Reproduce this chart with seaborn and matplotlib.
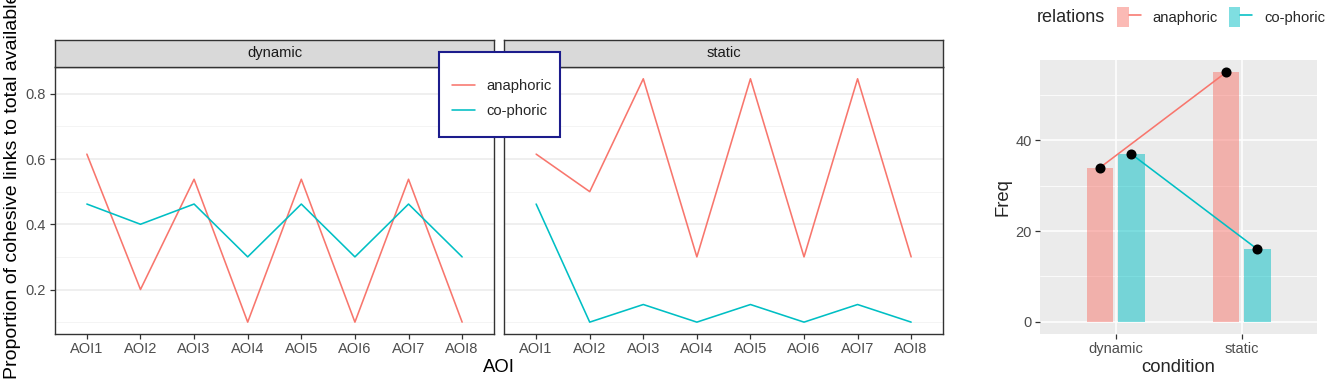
import numpy as np
import pandas as pd
import matplotlib
matplotlib.use("Agg")
import matplotlib.pyplot as plt
import seaborn as sns
from matplotlib.lines import Line2D
from matplotlib.patches import Patch, Rectangle
from matplotlib.legend_handler import HandlerTuple
from matplotlib.ticker import FixedLocator

# ---------------- data ----------------
aois = ["AOI1", "AOI2", "AOI3", "AOI4", "AOI5", "AOI6", "AOI7", "AOI8"]
conditions = ["dynamic", "static"]
relations = ["anaphoric", "co-phoric"]

dyn_anaphoric = [0.615, 0.2, 0.538, 0.1, 0.538, 0.1, 0.538, 0.1]
dyn_cophoric = [0.462, 0.4, 0.462, 0.3, 0.462, 0.3, 0.462, 0.3]
sta_anaphoric = [0.615, 0.5, 0.846, 0.3, 0.846, 0.3, 0.846, 0.3]
sta_cophoric = [0.462, 0.1, 0.154, 0.1, 0.154, 0.1, 0.154, 0.1]

freq_anaphoric = [34, 55]
freq_cophoric = [37, 16]

y_major = [0.2, 0.4, 0.6, 0.8]
y_minor = [0.1, 0.3, 0.5, 0.7]
freq_major = [0, 20, 40]
freq_minor = [10, 30, 50]

RED = "#F8766D"
CYAN = "#00BFC4"
palette = {"anaphoric": RED, "co-phoric": CYAN}

# ---------------- frames ----------------
rows = []
for cond, an, co in [("dynamic", dyn_anaphoric, dyn_cophoric),
                     ("static", sta_anaphoric, sta_cophoric)]:
    for a, v in zip(aois, an):
        rows.append((cond, a, "anaphoric", v))
    for a, v in zip(aois, co):
        rows.append((cond, a, "co-phoric", v))
prop_df = pd.DataFrame(rows, columns=["condition", "AOI", "relation", "prop"])

freq_df = pd.DataFrame({
    "condition": conditions * 2,
    "relations": ["anaphoric"] * 2 + ["co-phoric"] * 2,
    "Freq": freq_anaphoric + freq_cophoric,
})

# ---------------- figure ----------------
sns.set_style("white")
plt.rcParams["font.family"] = ["Liberation Sans", "DejaVu Sans"]

W, H = 1325, 383
fig = plt.figure(figsize=(W / 100, H / 100), dpi=100)


def fx(px):
    return px / W


def fy(py):
    return 1 - py / H


TICKC = "#4D4D4D"
BORDER = "#333333"
TICK_FS = 10.5
TITLE_FS = 13.3
LEG_FS = 10.6

panel_top, panel_bot = 66.7, 334.3
strip_top = 40.0
panels = [("dynamic", 54.7, 494.3), ("static", 504.0, 943.3)]

for i, (cond, x0, x1) in enumerate(panels):
    ax = fig.add_axes([fx(x0), fy(panel_bot), fx(x1) - fx(x0), fy(panel_top) - fy(panel_bot)])
    sub = prop_df[prop_df["condition"] == cond]
    sns.lineplot(data=sub, x="AOI", y="prop", hue="relation", palette=palette,
                 ax=ax, legend=False, linewidth=1.15, errorbar=None)
    ax.set_facecolor("white")
    ax.set_xlim(-0.6, 7.6)
    ax.set_ylim(0.0627, 0.883)
    ax.yaxis.set_major_locator(FixedLocator(y_major))
    ax.yaxis.set_minor_locator(FixedLocator(y_minor))
    ax.grid(False)
    ax.grid(axis="y", which="major", color="#EBEBEB", linewidth=1.1)
    ax.grid(axis="y", which="minor", color="#F2F2F2", linewidth=0.6)
    ax.set_axisbelow(True)
    for s in ax.spines.values():
        s.set_color(BORDER)
        s.set_linewidth(1.0)
        s.set_visible(True)
    ax.set_xlabel("")
    ax.set_ylabel("")
    ax.tick_params(axis="x", which="major", length=3.6, width=0.9, color=BORDER,
                   labelsize=TICK_FS, labelcolor=TICKC, pad=2.3, bottom=True)
    ax.tick_params(axis="y", which="minor", length=0, left=False)
    if i == 0:
        ax.set_yticklabels(["0.2", "0.4", "0.6", "0.8"])
        ax.tick_params(axis="y", which="major", length=3.6, width=0.9, color=BORDER,
                       labelsize=TICK_FS, labelcolor=TICKC, pad=2.5, left=True)
    else:
        ax.tick_params(axis="y", which="major", length=0, left=False, labelleft=False)

    sax = fig.add_axes([fx(x0), fy(panel_top), fx(x1) - fx(x0), fy(strip_top) - fy(panel_top)])
    sax.set_facecolor("#D9D9D9")
    sax.set_xticks([])
    sax.set_yticks([])
    for s in sax.spines.values():
        s.set_color(BORDER)
        s.set_linewidth(1.0)
        s.set_visible(True)
    sax.text(0.5, 0.5, cond, ha="center", va="center", fontsize=10.6, color="#1A1A1A",
             transform=sax.transAxes)

# axis titles for faceted plot
fig.text(fx(498.5), fy(368), "AOI", ha="center", va="center", fontsize=TITLE_FS, color="black")
fig.text(fx(13), fy(379), "Proportion of cohesive links to total available links",
         rotation=90, ha="center", va="bottom", fontsize=14, color="black")

# inside legend box
rect = Rectangle((fx(439.3), fy(136.7)), fx(560) - fx(439.3), fy(51.7) - fy(136.7),
                 transform=fig.transFigure, facecolor="white", edgecolor="#1C1C8C",
                 linewidth=1.5, zorder=5)
fig.add_artist(rect)
lh = [Line2D([], [], color=RED, linewidth=1.15), Line2D([], [], color=CYAN, linewidth=1.15)]
leg1 = fig.legend(lh, relations, loc="center left", bbox_to_anchor=(fx(451.7), fy(98.5)),
                  frameon=False, handlelength=1.55, handletextpad=0.82, labelspacing=0.78,
                  borderpad=0, borderaxespad=0, fontsize=LEG_FS)
leg1.set_zorder(6)

# ---------------- right plot ----------------
axr = fig.add_axes([fx(1040), fy(334.3), fx(1317.3) - fx(1040), fy(60) - fy(334.3)])
axr.set_facecolor("#EBEBEB")
sns.barplot(data=freq_df, x="condition", y="Freq", hue="relations", palette=palette,
            order=conditions, hue_order=relations, width=0.5, gap=0.16, alpha=0.5,
            saturation=1, linewidth=0, errorbar=None, ax=axr, legend=False)
sns.pointplot(data=freq_df, x="condition", y="Freq", hue="relations", palette=palette,
              order=conditions, hue_order=relations, dodge=0.25, markers="o",
              markersize=0, linewidth=1.15, errorbar=None, ax=axr, legend=False)
sns.pointplot(data=freq_df, x="condition", y="Freq", hue="relations",
              palette={"anaphoric": "black", "co-phoric": "black"},
              order=conditions, hue_order=relations, dodge=0.25, markers="o",
              markersize=5.2, linestyle="none", errorbar=None, ax=axr, legend=False)
axr.set_xlim(-0.6, 1.6)
axr.set_ylim(-2.75, 57.75)
axr.yaxis.set_major_locator(FixedLocator(freq_major))
axr.yaxis.set_minor_locator(FixedLocator(freq_minor))
axr.grid(False)
axr.grid(axis="y", which="major", color="white", linewidth=1.1)
axr.grid(axis="y", which="minor", color="white", linewidth=0.55)
axr.grid(axis="x", which="major", color="white", linewidth=1.1)
axr.set_axisbelow(True)
for s in axr.spines.values():
    s.set_visible(False)
axr.set_xlabel("")
axr.set_ylabel("")
axr.tick_params(axis="both", which="major", length=3.6, width=0.9, color=BORDER,
                labelsize=TICK_FS, labelcolor=TICKC, pad=2.3, bottom=True, left=True)
axr.tick_params(axis="y", which="minor", length=0, left=False)

fig.text(fx(1178.5), fy(368), "condition", ha="center", va="center", fontsize=TITLE_FS)
fig.text(fx(1002.5), fy(197), "Freq", ha="center", va="center", rotation=90, fontsize=TITLE_FS)

# top legend
fig.text(fx(1036.7), fy(17), "relations", ha="left", va="center", fontsize=13)
rh = [(Patch(facecolor=RED, alpha=0.5, linewidth=0), Line2D([], [], color=RED, linewidth=1.15)),
      (Patch(facecolor=CYAN, alpha=0.5, linewidth=0), Line2D([], [], color=CYAN, linewidth=1.15))]
fig.legend(rh, relations, handler_map={tuple: HandlerTuple(ndivide=None)}, ncol=2,
           loc="center left", bbox_to_anchor=(fx(1117), fy(17)), frameon=False,
           borderpad=0, borderaxespad=0, handlelength=1.6, handleheight=1.67,
           handletextpad=0.8, columnspacing=0.75, fontsize=LEG_FS)

fig.savefig("out.png", dpi=100)
